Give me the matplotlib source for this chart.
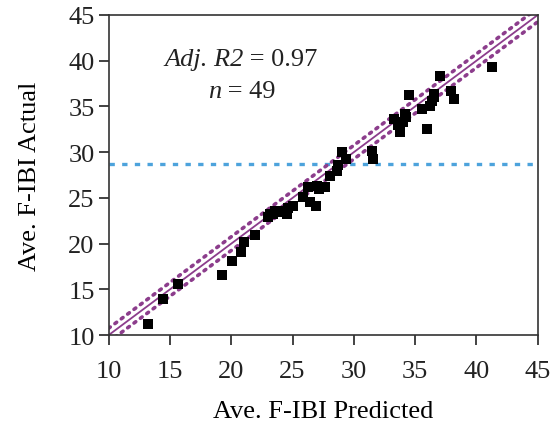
import matplotlib
matplotlib.use("Agg")
import matplotlib.pyplot as plt
import numpy as np

plt.rcParams["font.family"] = ["Liberation Serif", "DejaVu Serif"]

# predicted vs actual F-IBI
predicted = [13.25, 14.47, 15.7, 19.24, 20.1, 20.79, 21.06, 21.95, 23.04, 23.45,
             23.99, 24.54, 24.67, 25.08, 25.89, 26.3, 26.44, 26.93, 26.99, 27.66,
             28.62, 28.07, 29.03, 29.38, 31.47, 31.6, 33.24, 33.78, 33.78, 34.05,
             34.19, 34.46, 35.55, 35.96, 36.23, 36.37, 36.5, 37.05, 37.92, 38.19,
             41.27, 23.18, 23.58, 27.2, 28.72, 33.6, 36.5, 34.27, 24.2]
actual = [11.2, 13.94, 15.58, 16.56, 18.13, 19.04, 20.2, 20.97, 22.87, 23.23,
          23.6, 23.23, 23.86, 24.14, 25.06, 26.15, 24.51, 24.14, 26.33, 26.15,
          27.97, 27.42, 29.98, 29.25, 30.16, 29.25, 33.63, 32.2, 32.75, 33.26,
          34.17, 36.25, 34.72, 32.53, 35.08, 35.63, 36.36, 38.36, 36.72, 35.81,
          39.28, 23.23, 23.6, 26.0, 28.6, 32.97, 36.0, 33.84, 23.5]
threshold = 28.7
band = 0.75
ticks = [10, 15, 20, 25, 30, 35, 40, 45]

fig = plt.figure(figsize=(5.51, 4.31), dpi=100)
ax = fig.add_axes([0.197, 0.22, 0.779, 0.743])

line_x = np.array([10, 45])
purple = "#8c3d8c"
ax.plot(line_x, line_x, color=purple, lw=1.3, zorder=2)
ax.plot(line_x, line_x + band, color=purple, lw=2.6, ls=(0, (0.6, 1.6)),
        dash_capstyle="round", zorder=2)
ax.plot(line_x, line_x - band, color=purple, lw=2.6, ls=(0, (0.6, 1.6)),
        dash_capstyle="round", zorder=2)
ax.axhline(threshold, color="#4da3dc", lw=2.4, ls=(0, (1.6, 2.2)), zorder=1)

ax.scatter(predicted, actual, marker="s", s=50, color="black", zorder=3, linewidths=0)

ax.set_xlim(10, 45)
ax.set_ylim(10, 45)
ax.set_xticks(ticks)
ax.set_yticks(ticks)
ax.tick_params(direction="out", length=7, width=1.2, labelsize=19, colors="#222222")
ax.tick_params(axis="x", pad=11)
ax.tick_params(axis="y", pad=3)
for s in ax.spines.values():
    s.set_linewidth(1.2)
    s.set_color("#333333")

ax.set_xlabel("Ave. F-IBI Predicted", fontsize=19, labelpad=13)
ax.set_ylabel("Ave. F-IBI Actual", fontsize=19, labelpad=20)

txt = dict(fontsize=19, va="center", color="#222222")
ax.text(21.0, 40.2, "Adj. R2", ha="right", style="italic", **txt)
ax.text(21.0, 40.2, " = 0.97", ha="left", **txt)
ax.text(19.2, 36.7, "n", ha="right", style="italic", **txt)
ax.text(19.2, 36.7, " = 49", ha="left", **txt)

fig.savefig("out.png", dpi=100)
